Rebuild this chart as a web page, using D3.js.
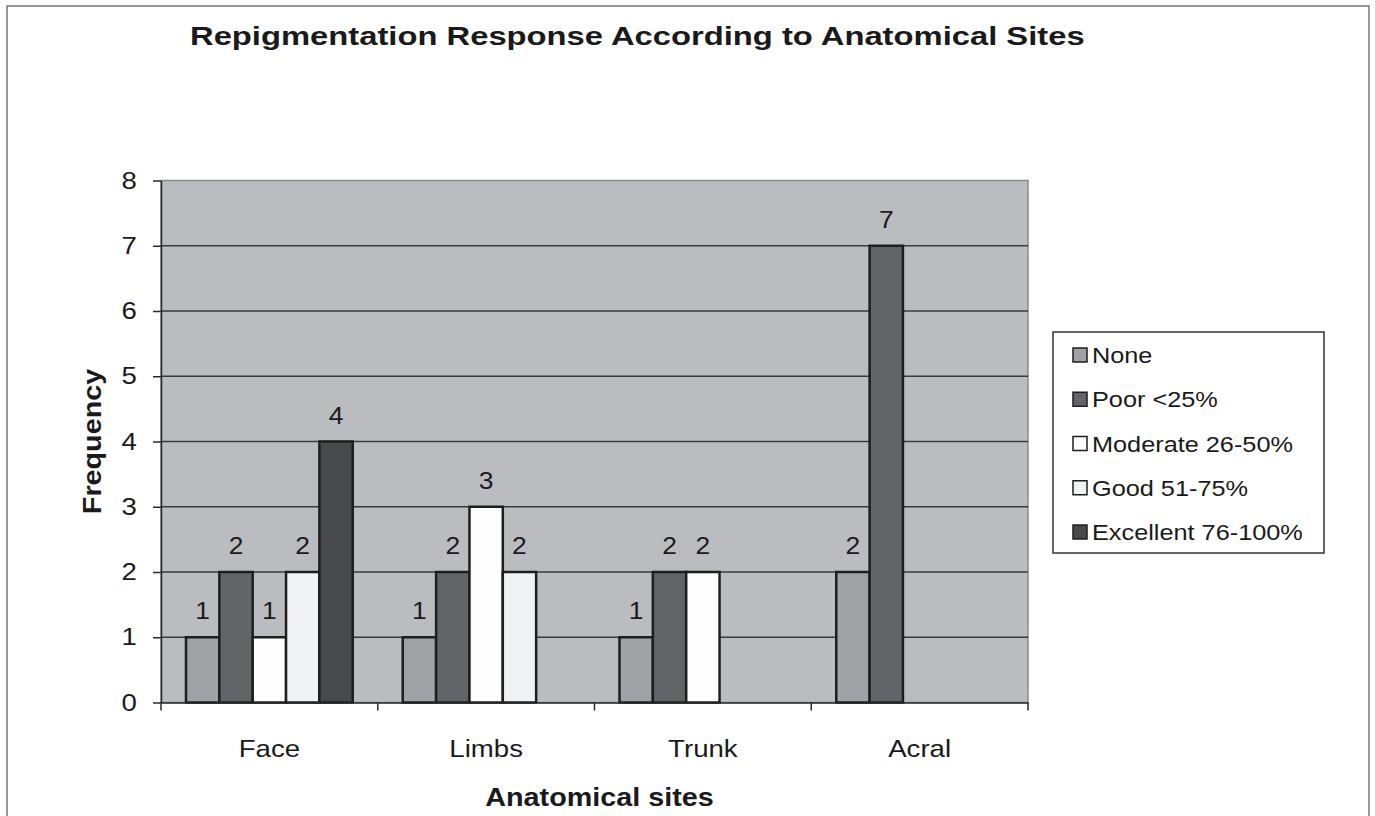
<!DOCTYPE html>
<head>
    <style>
        * { padding: 0; margin: 0; }
        body { background: #fff; }
        text { font-family: "Liberation Sans", Arial, sans-serif; fill: #1a1a1a; }
    </style>
    <script src="https://cdn.jsdelivr.net/npm/d3@7"></script>
</head>
<body>
    <script>
        /////////////////////////////////////////////////////
        // DATA
        /////////////////////////////////////////////////////

        const sites = ["Face", "Limbs", "Trunk", "Acral"]
        const responses = ["None", "Poor <25%", "Moderate 26-50%", "Good 51-75%", "Excellent 76-100%"]
        //one array per response, values per site (null = no bar)
        const none = [1, 1, 1, 2]
        const poor = [2, 2, 2, 7]
        const moderate = [1, 3, 2, null]
        const good = [2, 2, null, null]
        const excellent = [4, null, null, null]
        const yTicks = [0, 1, 2, 3, 4, 5, 6, 7, 8]

        const seriesValues = [none, poor, moderate, good, excellent]
        const colors = ["#a1a2a5", "#636467", "#fdfdfd", "#f1f2f4", "#48494b"]

        /////////////////////////////////////////////////////
        // SETUP
        /////////////////////////////////////////////////////

        const width = 1375, height = 816
        const SX = 1.15 //horizontal stretch of the original text
        const plot = { left: 161, right: 1028, top: 180.5, bottom: 702.5 }

        const svg = d3.select("body").append("svg")
            .attr("width", width)
            .attr("height", height)

        //outer frame
        svg.append("rect")
            .attr("x", 7).attr("y", 6)
            .attr("width", 1362).attr("height", 830)
            .attr("fill", "none")
            .attr("stroke", "#777")
            .attr("stroke-width", 1.5)

        const x0 = d3.scaleBand().domain(sites).range([plot.left, plot.right])
        const x1 = d3.scaleBand().domain(responses).range([0, x0.bandwidth()]).paddingOuter(0.75)
        const y = d3.scaleLinear().domain([0, 8]).range([plot.bottom, plot.top])

        /////////////////////////////////////////////////////
        // PLOT AREA
        /////////////////////////////////////////////////////

        svg.append("rect")
            .attr("x", plot.left).attr("y", plot.top)
            .attr("width", plot.right - plot.left)
            .attr("height", plot.bottom - plot.top)
            .attr("fill", "#bbbcc0")
            .attr("stroke", "#8a8b8e")
            .attr("stroke-width", 1.5)

        //gridlines (top one is the grey plot border)
        svg.append("g")
            .selectAll("line")
            .data(yTicks.slice(1, -1))
            .join("line")
            .attr("x1", plot.left).attr("x2", plot.right)
            .attr("y1", d => y(d)).attr("y2", d => y(d))
            .attr("stroke", "#3a3a3c")
            .attr("stroke-width", 1.5)

        /////////////////////////////////////////////////////
        // BARS
        /////////////////////////////////////////////////////

        const bars = []
        seriesValues.forEach((vals, i) => {
            vals.forEach((v, j) => {
                if (v != null) bars.push({ site: sites[j], resp: responses[i], value: v, color: colors[i] })
            })
        })

        svg.append("g")
            .selectAll("rect")
            .data(bars)
            .join("rect")
            .attr("x", d => x0(d.site) + x1(d.resp))
            .attr("y", d => y(d.value))
            .attr("width", x1.bandwidth())
            .attr("height", d => y(0) - y(d.value))
            .attr("fill", d => d.color)
            .attr("stroke", "#1e1e1e")
            .attr("stroke-width", 2.5)

        //value labels
        svg.append("g")
            .selectAll("text")
            .data(bars)
            .join("text")
            .attr("transform", d => `translate(${x0(d.site) + x1(d.resp) + x1.bandwidth() / 2},${y(d.value) - 18}) scale(${SX},1)`)
            .attr("text-anchor", "middle")
            .attr("font-size", 23)
            .text(d => d.value)

        /////////////////////////////////////////////////////
        // AXES
        /////////////////////////////////////////////////////

        const yAxis = svg.append("g")
            .attr("transform", `translate(${plot.left},0)`)
            .call(d3.axisLeft(y).tickValues(yTicks).tickSize(8).tickPadding(13).tickSizeOuter(0))
        yAxis.select(".domain").attr("stroke", "#2a2a2a").attr("stroke-width", 1.5)
        yAxis.selectAll(".tick line").attr("stroke", "#2a2a2a").attr("stroke-width", 1.5)
        yAxis.selectAll(".tick text")
            .attr("font-family", null)
            .attr("font-size", 24)
            .attr("fill", "#1a1a1a")
            .attr("transform", `scale(${SX},1)`)

        //category axis with ticks between groups
        const xAxis = svg.append("g")
            .attr("transform", `translate(0,${plot.bottom})`)
            .call(d3.axisBottom(x0).tickSize(0).tickPadding(37))
        xAxis.select(".domain").attr("stroke", "#2a2a2a").attr("stroke-width", 1.5)
        xAxis.selectAll(".tick text")
            .attr("font-family", null)
            .attr("font-size", 24)
            .attr("fill", "#1a1a1a")
            .attr("transform", `scale(${SX},1)`)
        svg.append("g")
            .selectAll("line")
            .data(sites.map(s => x0(s)).concat([plot.right]))
            .join("line")
            .attr("x1", d => d).attr("x2", d => d)
            .attr("y1", plot.bottom).attr("y2", plot.bottom + 8)
            .attr("stroke", "#2a2a2a")
            .attr("stroke-width", 1.5)

        //axis titles
        svg.append("text")
            .attr("transform", `translate(${(plot.left + plot.right) / 2 + 5},806) scale(${SX},1)`)
            .attr("text-anchor", "middle")
            .attr("font-size", 25)
            .attr("font-weight", "bold")
            .text("Anatomical sites")

        svg.append("text")
            .attr("transform", `translate(101,${(plot.top + plot.bottom) / 2}) rotate(-90) scale(${SX},1)`)
            .attr("text-anchor", "middle")
            .attr("font-size", 25)
            .attr("font-weight", "bold")
            .text("Frequency")

        //chart title
        svg.append("text")
            .attr("transform", `translate(190,45) scale(1.26,1)`)
            .attr("font-size", 26)
            .attr("font-weight", "bold")
            .text("Repigmentation Response According to Anatomical Sites")

        /////////////////////////////////////////////////////
        // LEGEND
        /////////////////////////////////////////////////////

        const legend = svg.append("g").attr("transform", "translate(1053,332)")
        legend.append("rect")
            .attr("width", 271).attr("height", 221)
            .attr("fill", "#fff")
            .attr("stroke", "#333")
            .attr("stroke-width", 1.5)

        const rowY = d3.scalePoint().domain(responses).range([23, 200])
        const items = legend.selectAll("g.item")
            .data(responses)
            .join("g")
            .attr("class", "item")
            .attr("transform", d => `translate(0,${rowY(d)})`)
        items.append("rect")
            .attr("x", 20).attr("y", -7)
            .attr("width", 14).attr("height", 14)
            .attr("fill", (d, i) => colors[i])
            .attr("stroke", "#1e1e1e")
            .attr("stroke-width", 1.5)
        items.append("text")
            .attr("transform", `translate(39,8) scale(${SX},1)`)
            .attr("font-size", 22)
            .text(d => d)
    </script>
</body>
